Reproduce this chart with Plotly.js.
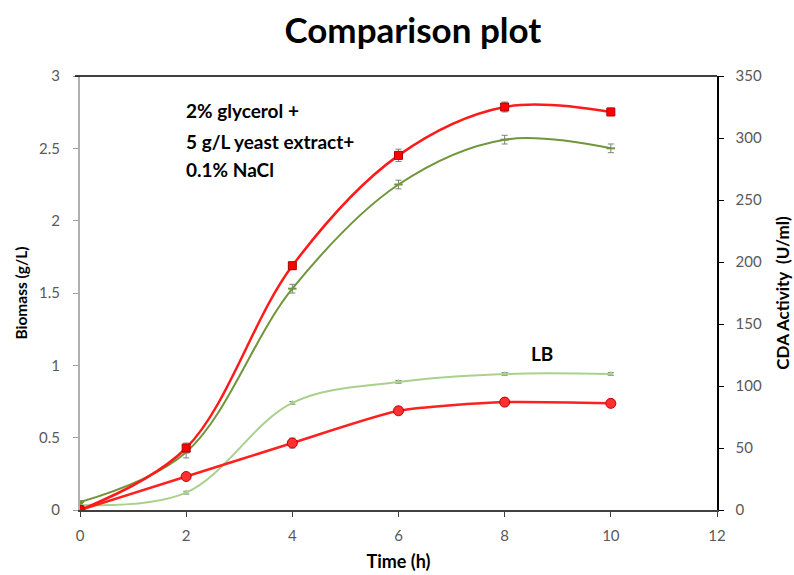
<!DOCTYPE html>
<html><head><meta charset="utf-8">
<script src="https://cdn.plot.ly/plotly-3.0.1.min.js"></script>
<style>html,body{margin:0;padding:0;background:#fff}#chart{width:794px;height:575px}</style>
</head><body><div id="chart"></div>
<script>
const timeH = [0, 2, 4, 6, 8, 10];
// CDA activity (U/ml), right axis
const cdaOptimized = [0, 50, 197, 286, 325, 321];
const cdaOptimizedErr = [1, 4, 3, 5, 4, 3];
const cdaLB = [0, 27, 54, 80, 87, 86];
const cdaLBErr = [1, 3, 4, 3, 3, 3];
// Biomass (g/L), left axis
const bioOptimized = [0.055, 0.40, 1.53, 2.25, 2.56, 2.50];
const bioOptimizedErr = [0.01, 0.04, 0.03, 0.03, 0.03, 0.03];
const bioLB = [0.035, 0.12, 0.74, 0.885, 0.94, 0.94];
const bioLBErr = [0.005, 0.01, 0.01, 0.01, 0.01, 0.01];

const leftTicks = [0, 0.5, 1, 1.5, 2, 2.5, 3];
const leftTickText = ['0', '0.5', '1', '1.5', '2', '2.5', '3'];
const rightTicks = [0, 50, 100, 150, 200, 250, 300, 350];
const xTicks = [0, 2, 4, 6, 8, 10, 12];

const F = 'Lato, "Open Sans", sans-serif';
const errStyle = (arr) => ({type: 'data', array: arr, visible: true, color: '#7f7f7f', thickness: 1, width: 3});

const traces = [
  {x: timeH, y: bioLB, yaxis: 'y', mode: 'lines+markers', line: {shape: 'spline', color: '#a9d18e', width: 2},
   marker: {symbol: 'triangle-up', size: 6, color: '#a9d18e'}, error_y: errStyle(bioLBErr)},
  {x: timeH, y: bioOptimized, yaxis: 'y', mode: 'lines+markers', line: {shape: 'spline', color: '#70963c', width: 2},
   marker: {symbol: 'line-ew', size: 6, color: '#70963c', line: {color: '#70963c', width: 2}}, error_y: errStyle(bioOptimizedErr)},
  {x: timeH, y: cdaLB, yaxis: 'y2', mode: 'lines+markers', line: {shape: 'spline', smoothing: 0.6, color: '#ff2020', width: 2.5},
   marker: {symbol: 'circle', size: 10, color: '#ff3030', line: {color: '#c00000', width: 1}}, error_y: errStyle(cdaLBErr)},
  {x: timeH, y: cdaOptimized, yaxis: 'y2', mode: 'lines+markers', line: {shape: 'spline', color: '#ff1a1a', width: 2.5},
   marker: {symbol: 'square', size: 8, color: '#ff0000', line: {color: '#b00000', width: 1}}, error_y: errStyle(cdaOptimizedErr)}
];

const layout = {
  width: 794, height: 575,
  margin: {l: 80, r: 77, t: 76, b: 65},
  paper_bgcolor: '#fff', plot_bgcolor: '#fff',
  showlegend: false,
  title: {text: '<b>Comparison plot</b>', font: {family: F, size: 35, color: '#000'}, x: 0.52, xanchor: 'center', y: 0.947, yanchor: 'middle'},
  xaxis: {range: [0, 12], tickvals: xTicks, ticks: 'outside', ticklen: 5, tickcolor: '#404040', ticklabelstandoff: 6,
    showline: true, linecolor: '#404040', linewidth: 2, showgrid: false, zeroline: false, mirror: false,
    tickfont: {family: F, size: 15, color: '#595959'},
    title: {text: '<b>Time (h)</b>', font: {family: F, size: 18, color: '#000'}, standoff: 12}},
  yaxis: {range: [0, 3], tickvals: leftTicks, ticktext: leftTickText, ticks: 'outside', ticklen: 5, tickcolor: '#a0a0a0', ticklabelstandoff: 10,
    showline: true, linecolor: '#b0b0b0', linewidth: 2, showgrid: false, zeroline: false,
    tickfont: {family: F, size: 15, color: '#595959'},
    title: {text: '<b>Biomass (g/L)</b>', font: {family: F, size: 15.5, color: '#000'}, standoff: 8}},
  yaxis2: {range: [0, 350], tickvals: rightTicks, overlaying: 'y', side: 'right', ticks: 'outside', ticklen: 5, tickcolor: '#000', ticklabelstandoff: 9,
    showline: true, linecolor: '#000', linewidth: 1.5, showgrid: false, zeroline: false,
    tickfont: {family: F, size: 15, color: '#595959'},
    title: {text: '<b>CDA Activity\u00a0\u00a0(U/ml)</b>', font: {family: F, size: 17, color: '#000'}, standoff: 16}},
  shapes: [{type: 'line', xref: 'paper', yref: 'paper', x0: -0.008, x1: 1, y0: 1, y1: 1, line: {color: '#000', width: 1.5}}],
  annotations: [
    {xref: 'x', yref: 'y', x: 1.95, y: 2.76, xanchor: 'left', yanchor: 'middle', showarrow: false,
     text: '<b>2% glycerol +</b>', font: {family: F, size: 19, color: '#000'}},
    {xref: 'x', yref: 'y', x: 1.95, y: 2.55, xanchor: 'left', yanchor: 'middle', showarrow: false,
     text: '<b>5 g/L yeast extract+</b>', font: {family: F, size: 19, color: '#000'}},
    {xref: 'x', yref: 'y', x: 1.95, y: 2.355, xanchor: 'left', yanchor: 'middle', showarrow: false,
     text: '<b>0.1% NaCl</b>', font: {family: F, size: 19, color: '#000'}},
    {xref: 'x', yref: 'y', x: 8.7, y: 1.08, xanchor: 'center', yanchor: 'middle', showarrow: false,
     text: '<b>LB</b>', font: {family: F, size: 19, color: '#000'}}
  ]
};
Plotly.newPlot('chart', traces, layout, {displayModeBar: false, staticPlot: true});
</script></body></html>
